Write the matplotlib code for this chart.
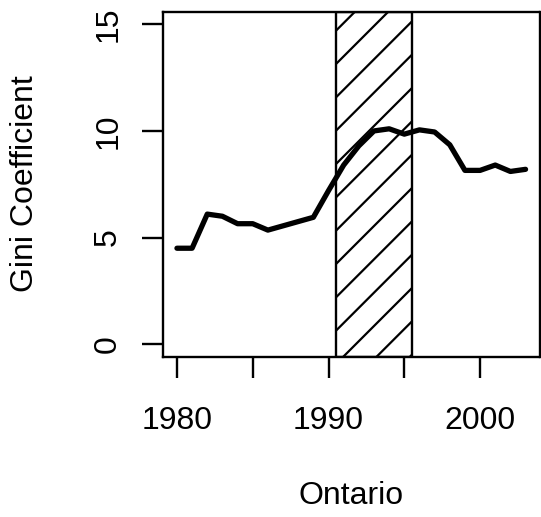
import matplotlib
matplotlib.use("Agg")
import matplotlib.pyplot as plt

# Ontario Gini coefficient by year
years = [1980, 1981, 1982, 1983, 1984, 1985, 1986, 1987, 1988, 1989, 1990, 1991,
         1992, 1993, 1994, 1995, 1996, 1997, 1998, 1999, 2000, 2001, 2002, 2003]
gini = [4.5, 4.5, 6.1, 6.0, 5.65, 5.65, 5.35, 5.55, 5.75, 5.95, 7.2, 8.4,
        9.3, 10.0, 10.1, 9.85, 10.05, 9.95, 9.35, 8.15, 8.15, 8.4, 8.1, 8.2]
band = (1990.5, 1995.5)
xticks = [1980, 1985, 1990, 1995, 2000]
xticklabels = ["1980", "", "1990", "", "2000"]
yticks = [0, 5, 10, 15]
yticklabels = ["0", "5", "10", "15"]

plt.rcParams['font.family'] = ['Liberation Sans', 'DejaVu Sans']
plt.rcParams['hatch.linewidth'] = 0.8
plt.rcParams['hatch.color'] = 'black'

W, H = 541, 517
fig = plt.figure(figsize=(W / 200, H / 200), dpi=200)
ax = fig.add_axes([163 / W, (H - 357) / H, (539.5 - 163) / W, (357 - 11.5) / H])

ax.axvspan(band[0], band[1], facecolor='none', edgecolor='black', hatch='//', lw=0.85, zorder=1)
ax.plot(years, gini, color='black', lw=1.9, solid_joinstyle='round', solid_capstyle='round', zorder=3)

ax.set_xlim(1979.08, 2003.92)
ax.set_ylim(-0.6, 15.6)
ax.set_xticks(xticks)
ax.set_xticklabels(xticklabels, fontsize=11.5)
ax.set_yticks(yticks)
ax.set_yticklabels(yticklabels, fontsize=11.5, rotation=90, va='center')
ax.tick_params(axis='x', length=7.45, width=0.85, pad=10.3, direction='out')
ax.tick_params(axis='y', length=7.45, width=0.85, pad=6.9, direction='out')
for s in ax.spines.values():
    s.set_linewidth(0.85)

fig.text(25 / W, 1 - 184 / H, "Gini Coefficient", rotation=90, ha='center', va='center', fontsize=11.5)
fig.text(351 / W, 1 - 495.5 / H, "Ontario", ha='center', va='center', fontsize=11.5)

fig.savefig("out.png", dpi=200)
